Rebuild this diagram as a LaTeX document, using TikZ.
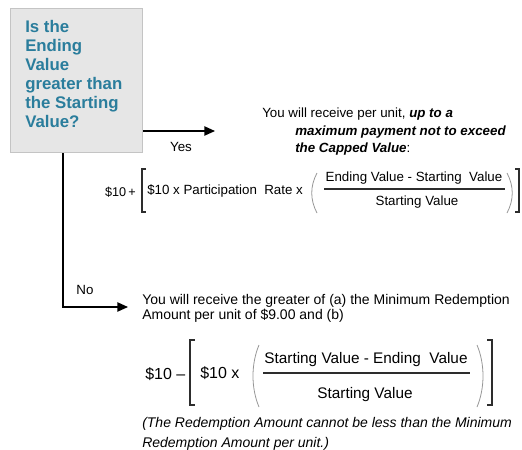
\documentclass[tikz,border=0pt]{standalone}
\usepackage{fontspec}
\setmainfont{Liberation Sans}
\usepackage{xcolor}
\usepackage{tikz}
\usetikzlibrary{arrows.meta}

\definecolor{boxfill}{RGB}{230,230,230}
\definecolor{boxline}{RGB}{196,196,196}
\definecolor{asktext}{RGB}{42,125,156}
\definecolor{inkgray}{RGB}{45,45,45}
\definecolor{softgray}{RGB}{150,150,150}

\tikzset{
    askbox/.style={
        draw=boxline,
        fill=boxfill,
        line width=1pt,
        minimum width=99pt,
        minimum height=108pt,
        inner sep=0pt,
        anchor=north west
    },
    asklines/.style={
        inner sep=0pt,
        anchor=north west,
        align=left,
        text=asktext,
        font=\bfseries\fontsize{12.6}{14.25}\selectfont
    },
    bodytext/.style={
        inner sep=0pt,
        anchor=base west,
        font=\fontsize{10}{12}\selectfont
    },
    mathtext/.style={
        inner sep=0pt,
        font=\fontsize{10}{12}\selectfont
    },
    bigmath/.style={
        inner sep=0pt,
        font=\fontsize{11.5}{13}\selectfont
    },
    flow/.style={
        line width=1pt,
        -{Triangle[length=8pt,width=7pt]}
    },
    brack/.style={
        line width=1pt,
        draw=inkgray
    },
    parenline/.style={
        line width=0.6pt,
        draw=softgray
    },
    fracline/.style={
        line width=0.8pt,
        draw=inkgray
    }
}

\begin{document}
\begin{tikzpicture}[x=0.75pt,y=-0.75pt]
                \useasboundingbox (0,0) rectangle (522,450);

                \node[askbox] (qbox) at (10,8) {};
                \node[asklines] (qtext) at (25,20) {Is the\\Ending\\Value\\greater than\\the Starting\\Value?};

                \coordinate (yestip) at (215,131);
                \draw[flow] (qbox.east |- yestip) -- (yestip);
                \node[mathtext] (yeslabel) at (181,147) {Yes};

                \coordinate (nocorner) at (63,307);
                \coordinate (notip) at (128,307);
                \draw[flow] (qbox.south -| nocorner) -- (nocorner) -- (notip);
                \node[mathtext] (nolabel) at (85,290) {No};

                \node[bodytext] (capa) at (262,117) {You will receive per unit, \textbf{\textit{up to a}}};
                \node[bodytext] (capb) at (295,135) {\textbf{\textit{maximum payment not to exceed}}};
                \node[bodytext] (capc) at (295,152) {\textbf{\textit{the Capped Value}}:};

                \node[mathtext,font=\fontsize{9.5}{12}\selectfont,anchor=base east] (upten) at (136,196) {\$10\,+};
                \draw[brack] (146,169) -- (142,169) -- (142,212) -- (146,212);
                \node[mathtext,anchor=base west] (uprate) at (147,194) {\$10 x Participation~ Rate x};
                \draw[parenline] (317,173) .. controls (310,186) and (310,200) .. (317,213);
                \node[mathtext] (upnum) at (414,178) {Ending Value - Starting~ Value};
                \draw[fracline] (324,189) -- (505,189);
                \node[mathtext] (upden) at (417,202) {Starting Value};
                \draw[parenline] (507,173) .. controls (514,186) and (514,200) .. (507,213);
                \draw[brack] (515,169) -- (519,169) -- (519,212) -- (515,212);

                \node[bodytext,font=\fontsize{10.5}{12}\selectfont] (mina) at (142,304) {You will receive the greater of (a) the Minimum Redemption};
                \node[bodytext,font=\fontsize{10.5}{12}\selectfont] (minb) at (142,319) {Amount per unit of \$9.00 and (b)};

                \node[bigmath,font=\fontsize{12}{14}\selectfont,anchor=base west] (downten) at (145,379) {\$10 --};
                \draw[brack] (195,340) -- (190,340) -- (190,405) -- (195,405);
                \node[bigmath,font=\fontsize{12}{14}\selectfont,anchor=base west] (downx) at (200,378) {\$10 x};
                \draw[parenline] (259,345) .. controls (251,364) and (251,388) .. (259,407);
                \node[bigmath] (downnum) at (366,360) {Starting Value - Ending~ Value};
                \draw[fracline] (263,373) -- (470,373);
                \node[bigmath] (downden) at (365,395) {Starting Value};
                \draw[parenline] (477,345) .. controls (485,364) and (485,388) .. (477,407);
                \draw[brack] (487,340) -- (492,340) -- (492,405) -- (487,405);

                \node[bodytext,font=\itshape\fontsize{10.5}{12}\selectfont] (notea) at (142,427) {(The Redemption Amount cannot be less than the Minimum};
                \node[bodytext,font=\itshape\fontsize{10.5}{12}\selectfont] (noteb) at (142,447) {Redemption Amount per unit.)};

             \end{tikzpicture}
\end{document}
